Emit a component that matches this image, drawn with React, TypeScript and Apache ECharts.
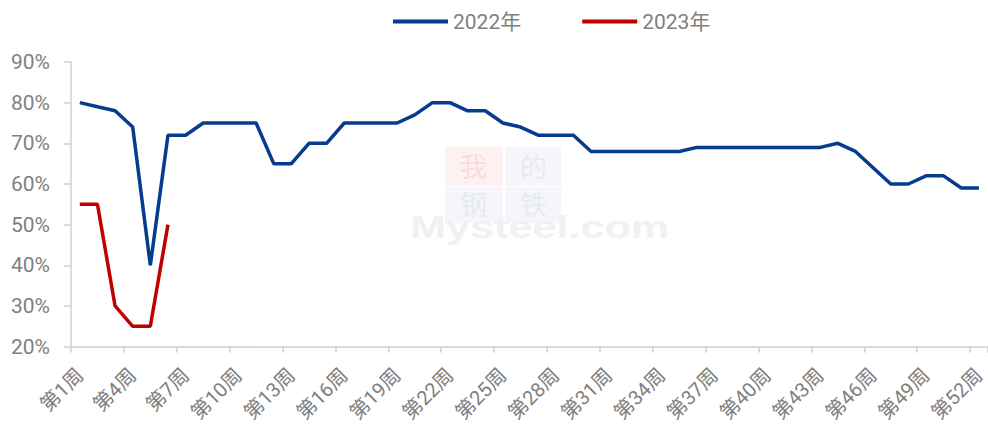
import React, { useEffect, useRef } from "react";
import * as echarts from "echarts";

const weeks: string[] = Array.from({ length: 52 }, (_, i) => `第${i + 1}周`);

const series2022: number[] = [
  80, 79, 78, 74, 40, 72, 72, 75, 75, 75,
  75, 65, 65, 70, 70, 75, 75, 75, 75, 77,
  80, 80, 78, 78, 75, 74, 72, 72, 72, 68,
  68, 68, 68, 68, 68, 69, 69, 69, 69, 69,
  69, 69, 69, 70, 68, 64, 60, 60, 62, 62,
  59, 59,
];

const series2023: number[] = [55, 55, 30, 25, 25, 50];

const yTicks = { min: 20, max: 90, interval: 10 };

const FONT = "Roboto, 'Noto Sans CJK SC', sans-serif";
const GRAY = "#808080";

export default function App() {
  const ref = useRef<HTMLDivElement>(null);

  useEffect(() => {
    if (!ref.current) return;
    const chart = echarts.init(ref.current, undefined, { renderer: "svg" });
    chart.setOption({
      animation: false,
      backgroundColor: "#ffffff",
      grid: { left: 71, top: 62, width: 924.6, height: 286 },
      legend: {
        left: 388,
        top: 6,
        itemGap: 61,
        itemWidth: 55,
        itemHeight: 4,
        icon: "rect",
        textStyle: { color: GRAY, fontSize: 21, fontFamily: FONT },
        data: ["2022年", "2023年"],
      },
      xAxis: {
        type: "category",
        data: weeks,
        boundaryGap: true,
        axisLine: { show: true, lineStyle: { color: "#d0d0d0", width: 1.5 } },
        axisTick: { show: true, interval: 2, length: 6, lineStyle: { color: "#d0d0d0", width: 1.5 } },
        axisLabel: {
          interval: 2,
          rotate: 45,
          margin: 25,
          color: GRAY,
          fontSize: 20,
          fontFamily: FONT,
        },
        splitLine: { show: false },
      },
      yAxis: {
        type: "value",
        min: yTicks.min,
        max: yTicks.max,
        interval: yTicks.interval,
        axisLine: { show: true, lineStyle: { color: "#d0d0d0", width: 1.5 } },
        axisTick: { show: true, length: 7, lineStyle: { color: "#d0d0d0", width: 1.5 } },
        axisLabel: {
          formatter: "{value}%",
          color: GRAY,
          fontSize: 21,
          fontFamily: FONT,
          margin: 21,
        },
        splitLine: { show: false },
      },
      graphic: [
        { type: "rect", left: 445, top: 147, shape: { width: 58, height: 39 }, style: { fill: "#fdf1f1" }, silent: true, z: 0 },
        { type: "rect", left: 505, top: 147, shape: { width: 56, height: 39 }, style: { fill: "#f5f6fa" }, silent: true, z: 0 },
        { type: "rect", left: 445, top: 187, shape: { width: 58, height: 36 }, style: { fill: "#f5f6fa" }, silent: true, z: 0 },
        { type: "rect", left: 505, top: 187, shape: { width: 56, height: 36 }, style: { fill: "#f5f6fa" }, silent: true, z: 0 },
        { type: "text", left: 460, top: 152, style: { text: "我", fill: "#f9dcdc", font: "27px 'Noto Sans CJK SC'" }, silent: true, z: 0 },
        { type: "text", left: 520, top: 152, style: { text: "的", fill: "#e7eaf2", font: "27px 'Noto Sans CJK SC'" }, silent: true, z: 0 },
        { type: "text", left: 460, top: 190, style: { text: "钢", fill: "#e7eaf2", font: "27px 'Noto Sans CJK SC'" }, silent: true, z: 0 },
        { type: "text", left: 520, top: 190, style: { text: "铁", fill: "#e7eaf2", font: "27px 'Noto Sans CJK SC'" }, silent: true, z: 0 },
        {
          type: "text",
          x: 410,
          y: 211,
          scaleX: 1.35,
          style: { text: "Mysteel.com", fill: "#f1f1f1", font: "bold 32px 'Liberation Sans'" },
          silent: true,
          z: 0,
        },
      ],
      series: [
        {
          name: "2022年",
          type: "line",
          data: series2022,
          showSymbol: false,
          symbol: "none",
          lineStyle: { color: "#053C8E", width: 3.5 },
          itemStyle: { color: "#053C8E" },
          z: 3,
        },
        {
          name: "2023年",
          type: "line",
          data: series2023,
          showSymbol: false,
          symbol: "none",
          lineStyle: { color: "#C00000", width: 3.5 },
          itemStyle: { color: "#C00000" },
          z: 4,
        },
      ],
    });
    return () => chart.dispose();
  }, []);

  return <div ref={ref} style={{ width: 988, height: 425, position: "absolute", left: 0, top: 0 }} />;
}
